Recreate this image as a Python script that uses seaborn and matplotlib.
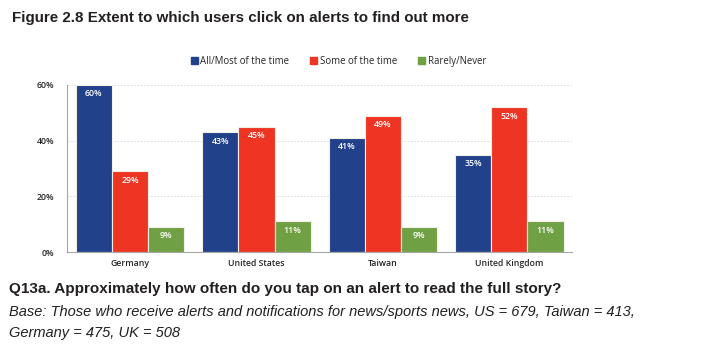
import matplotlib
matplotlib.use("Agg")
import matplotlib.pyplot as plt
import seaborn as sns
import pandas as pd
from matplotlib.ticker import PercentFormatter

countries = ["Germany", "United States", "Taiwan", "United Kingdom"]
series = ["All/Most of the time", "Some of the time", "Rarely/Never"]
all_most = [60, 43, 41, 35]
some = [29, 45, 49, 52]
rarely = [9, 11, 9, 11]
colors = ["#21418a", "#ee3524", "#70a044"]

rows = []
for name, vals in zip(series, [all_most, some, rarely]):
    for c, v in zip(countries, vals):
        rows.append({"country": c, "series": name, "value": v})
df = pd.DataFrame(rows)

sns.set_style("white")
plt.rcParams["font.family"] = ["Open Sans", "DejaVu Sans"]

fig = plt.figure(figsize=(7.02, 3.51), dpi=100)
ax = fig.add_axes([0.0954, 0.282, 0.72, 0.476])

sns.barplot(data=df, x="country", y="value", hue="series", palette=colors,
            saturation=1, width=0.86, gap=0, edgecolor="#f2efe6",
            linewidth=0.8, ax=ax, legend=False)

for cont in ax.containers:
    for bar in cont:
        h = bar.get_height()
        ax.text(bar.get_x() + bar.get_width() / 2, h - 1.6, f"{h:.0f}%",
                ha="center", va="top", color="white", fontsize=6.3,
                fontweight="semibold")

ax.set_ylim(0, 60)
ax.set_xlim(-0.5, 3.5)
ax.set_yticks([0, 20, 40, 60])
ax.yaxis.set_major_formatter(PercentFormatter(decimals=0))
ax.grid(axis="y", linestyle=(0, (2, 2)), color="#d9d9d9", linewidth=0.6)
ax.set_axisbelow(True)
for s in ["top", "right"]:
    ax.spines[s].set_visible(False)
for s in ["left", "bottom"]:
    ax.spines[s].set_color("#a6a6a6")
    ax.spines[s].set_linewidth(0.8)
ax.tick_params(axis="y", length=0, labelsize=6.3, pad=9)
ax.tick_params(axis="x", length=0, labelsize=6.3, pad=5)
for lbl in ax.get_xticklabels() + ax.get_yticklabels():
    lbl.set_fontweight("semibold")
ax.set_xlabel("")
ax.set_ylabel("")

handles = [plt.Rectangle((0, 0), 1, 1, color=c) for c in colors]
fig.legend(handles, series, loc="center", bbox_to_anchor=(0.482, 0.826),
           ncol=3, frameon=False, fontsize=6.9, handlelength=0.75,
           handleheight=0.75, handletextpad=0.25, columnspacing=2.2)

font = ["Liberation Sans", "DejaVu Sans"]
fig.text(0.017, 0.948, "Figure 2.8 Extent to which users click on alerts to find out more",
         fontsize=10.9, fontweight="bold", family=font, va="center", color="#231f20")
fig.text(0.013, 0.176, "Q13a. Approximately how often do you tap on an alert to read the full story?",
         fontsize=11, fontweight="bold", family=font, va="center", color="#231f20")
fig.text(0.013, 0.111, "Base: Those who receive alerts and notifications for news/sports news, US = 679, Taiwan = 413,",
         fontsize=10.5, style="italic", family=font, va="center", color="#231f20")
fig.text(0.013, 0.051, "Germany = 475, UK = 508",
         fontsize=10.5, style="italic", family=font, va="center", color="#231f20")

fig.savefig("out.png", dpi=100)
